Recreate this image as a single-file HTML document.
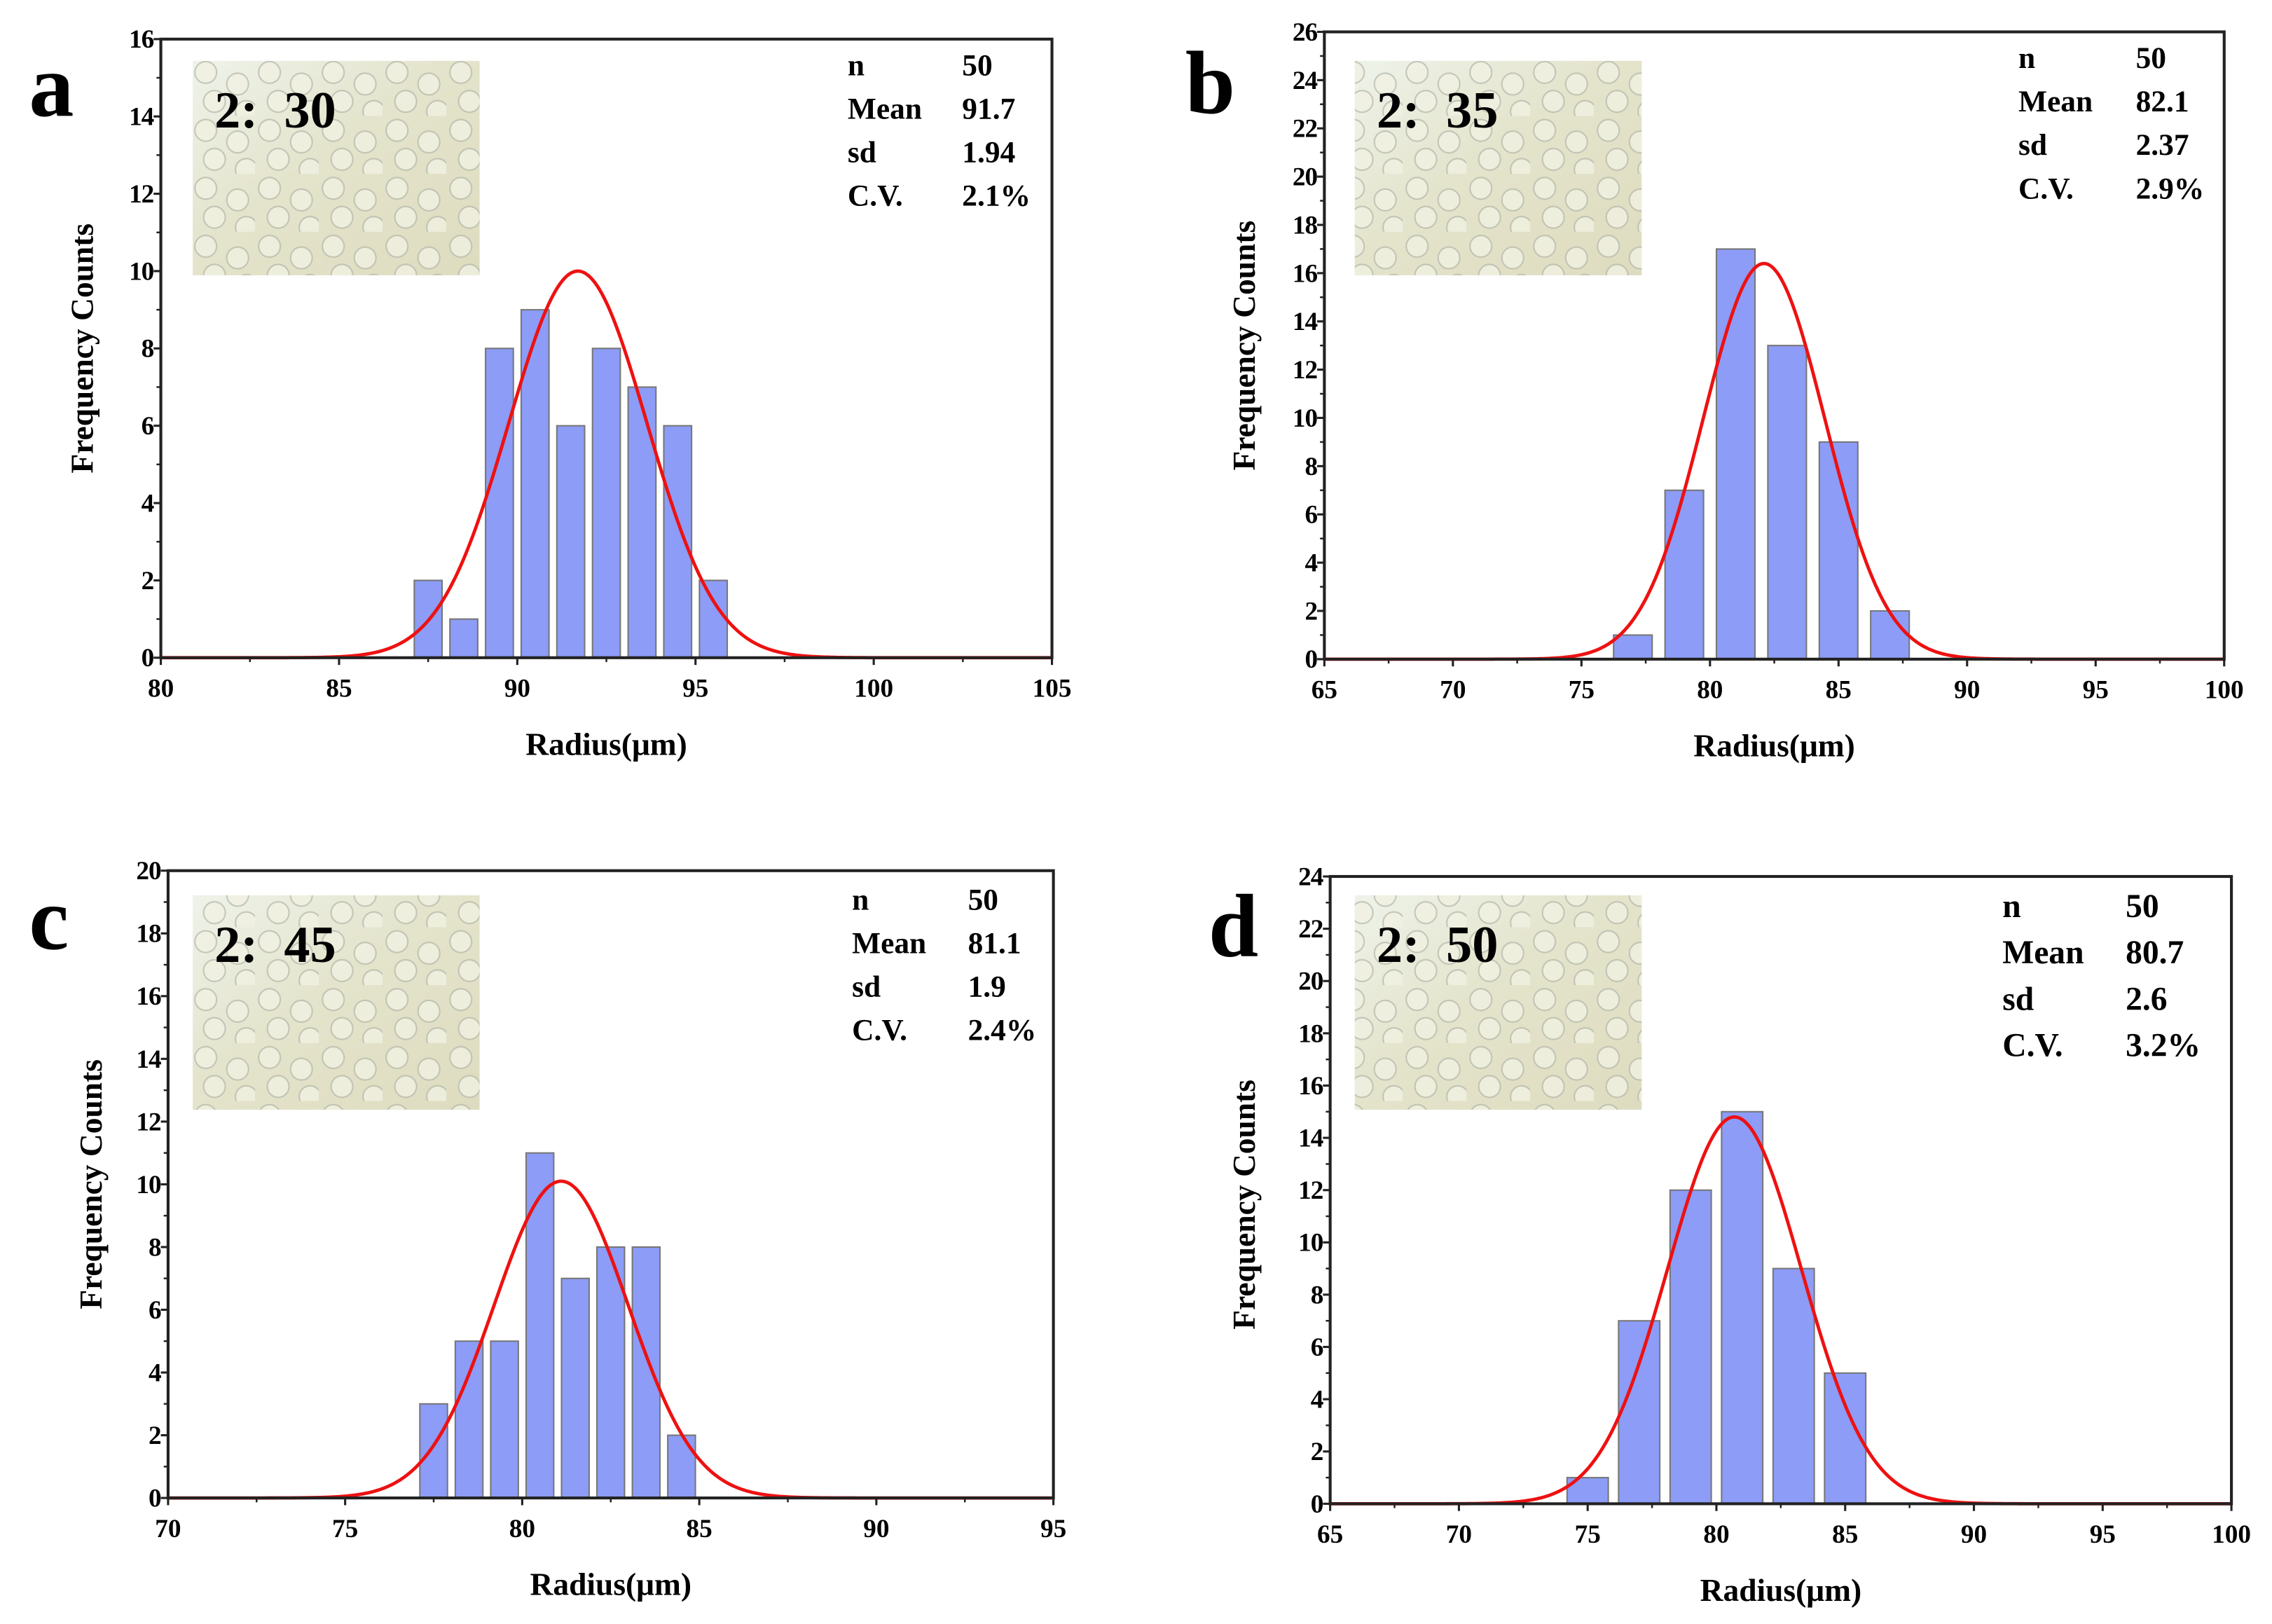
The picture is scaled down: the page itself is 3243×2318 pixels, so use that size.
<!DOCTYPE html>
<html><head><meta charset="utf-8"><style>
html,body{margin:0;padding:0;background:#fff;}
svg{display:block;}
text{font-family:"Liberation Serif",serif;font-weight:bold;fill:#000;}
.pre{white-space:pre;}
</style></head><body>
<svg id="fig" width="3243" height="2318" viewBox="0 0 1568 1121" preserveAspectRatio="none" xmlns="http://www.w3.org/2000/svg">
<defs>
<pattern id="drops" width="44" height="40" patternUnits="userSpaceOnUse">
<circle cx="10" cy="10" r="7.5" fill="#f1f1e2" stroke="#b9bcae" stroke-width="1"/>
<circle cx="32" cy="18" r="7.5" fill="#f1f1e2" stroke="#b9bcae" stroke-width="1"/>
<circle cx="16" cy="30" r="7.5" fill="#f1f1e2" stroke="#b9bcae" stroke-width="1"/>
<circle cx="38" cy="37" r="7.5" fill="#f1f1e2" stroke="#b9bcae" stroke-width="1"/>
</pattern>
<linearGradient id="bg" x1="0" y1="0" x2="1" y2="1">
<stop offset="0" stop-color="#eef3ea"/><stop offset="0.45" stop-color="#e4e4cc"/><stop offset="1" stop-color="#dedcbf"/>
</linearGradient>
</defs>
</svg>
<script>
// Panel a
const aCenters=[87.5,88.5,89.5,90.5,91.5,92.5,93.5,94.5,95.5];
const aCounts=[2,1,8,9,6,8,7,6,2];
const aFit=[91.7,1.94,10.0];
const aXTicks=[80,85,90,95,100,105];
const aYTicks=[0,2,4,6,8,10,12,14,16];
const aStats=[["n","50"],["Mean","91.7"],["sd","1.94"],["C.V.","2.1%"]];
// Panel b
const bCenters=[77,79,81,83,85,87];
const bCounts=[1,7,17,13,9,2];
const bFit=[82.1,2.37,16.4];
const bXTicks=[65,70,75,80,85,90,95,100];
const bYTicks=[0,2,4,6,8,10,12,14,16,18,20,22,24,26];
const bStats=[["n","50"],["Mean","82.1"],["sd","2.37"],["C.V.","2.9%"]];
// Panel c
const cCenters=[77.5,78.5,79.5,80.5,81.5,82.5,83.5,84.5];
const cCounts=[3,5,5,11,7,8,8,2];
const cFit=[81.1,1.9,10.1];
const cXTicks=[70,75,80,85,90,95];
const cYTicks=[0,2,4,6,8,10,12,14,16,18,20];
const cStats=[["n","50"],["Mean","81.1"],["sd","1.9"],["C.V.","2.4%"]];
// Panel d
const dCenters=[75,77,79,81,83,85];
const dCounts=[1,7,12,15,9,5];
const dFit=[80.7,2.6,14.8];
const dXTicks=[65,70,75,80,85,90,95,100];
const dYTicks=[0,2,4,6,8,10,12,14,16,18,20,22,24];
const dStats=[["n","50"],["Mean","80.7"],["sd","2.6"],["C.V.","3.2%"]];

const NS="http://www.w3.org/2000/svg";
const svg=document.getElementById('fig');
function mk(tag,attrs,parent){const e=document.createElementNS(NS,tag);for(const k in attrs)e.setAttribute(k,attrs[k]);(parent||svg).appendChild(e);return e;}

function panel(cfg){
  const g=mk('g',{});
  
  
  const xs=cfg.xTicks, ys=cfg.yTicks;
  const x0=xs[0],x1=xs[xs.length-1],y0=ys[0],y1=ys[ys.length-1];
  const X=v=>cfg.L+(v-x0)/(x1-x0)*(cfg.R-cfg.L);
  const Y=v=>cfg.B-(v-y0)/(y1-y0)*(cfg.B-cfg.T);
  const ig=mk('g',{},g);
  
  
  mk('rect',{x:cfg.inset[0],y:cfg.inset[1],width:198,height:148,fill:'url(#bg)'},ig);
  mk('rect',{x:cfg.inset[0],y:cfg.inset[1],width:198,height:148,fill:'url(#drops)',opacity:0.8},ig);
  const it=mk('text',{x:cfg.inset[0]+15,y:cfg.inset[1]+46,'font-size':36,'class':'pre'},ig);
  it.textContent=cfg.label;
  
  
  const bw=cfg.bw;
  cfg.centers.forEach((c,i)=>{
    const r=mk('rect',{x:X(c-bw/2),y:Y(cfg.counts[i]),width:X(c+bw/2)-X(c-bw/2),height:Y(0)-Y(cfg.counts[i]),fill:'#8c9cf7',stroke:'#777',"stroke-width":1},g);
    
    
  });
  const [mu,sd,amp]=cfg.fit;
  let d='';
  for(let k=0;k<=400;k++){const v=x0+(x1-x0)*k/400;const f=amp*Math.exp(-0.5*((v-mu)/sd)**2);d+=(k?'L':'M')+X(v).toFixed(2)+' '+Y(f).toFixed(2);}
  const p=mk('path',{d:d,fill:'none',stroke:'#ee1111','stroke-width':2.3},g);
  
  
  const fr=mk('rect',{x:cfg.L,y:cfg.T,width:cfg.R-cfg.L,height:cfg.B-cfg.T,fill:'none',stroke:'#222','stroke-width':2},g);
  
  
  ys.forEach((v,i)=>{
    mk('line',{x1:cfg.L-5,x2:cfg.L,y1:Y(v),y2:Y(v),stroke:'#222','stroke-width':1.5},g);
    if(i<ys.length-1){const m=(v+ys[i+1])/2;mk('line',{x1:cfg.L-3,x2:cfg.L,y1:Y(m),y2:Y(m),stroke:'#222','stroke-width':1.2},g);}
    const t=mk('text',{x:cfg.L-5,y:Y(v)+6,'font-size':18,'text-anchor':'end','letter-spacing':-0.5},g);
    t.textContent=v;
    
    
  });
  xs.forEach((v,i)=>{
    mk('line',{x1:X(v),x2:X(v),y1:cfg.B,y2:cfg.B+5,stroke:'#222','stroke-width':1.5},g);
    if(i<xs.length-1){const m=(v+xs[i+1])/2;mk('line',{x1:X(m),x2:X(m),y1:cfg.B,y2:cfg.B+3,stroke:'#222','stroke-width':1.2},g);}
    const t=mk('text',{x:X(v),y:cfg.B+27,'font-size':18,'text-anchor':'middle'},g);
    t.textContent=v;
    
    
  });
  const xt=mk('text',{x:(cfg.L+cfg.R)/2,y:cfg.B+67,'font-size':22,'text-anchor':'middle'},g);
  xt.textContent='Radius(μm)';
  
  
  const yc=(cfg.T+cfg.B)/2+cfg.yoff;
  const yt=mk('text',{x:cfg.yx,y:yc,'font-size':22,'text-anchor':'middle',transform:`rotate(-90 ${cfg.yx} ${yc})`},g);
  yt.textContent='Frequency Counts';
  
  
  cfg.stats.forEach((s,i)=>{
    const a=mk('text',{x:cfg.st[0],y:cfg.st[2]+i*cfg.st[3],'font-size':cfg.st[4]},g);
    a.textContent=s[0];
    
    
    const b=mk('text',{x:cfg.st[1],y:cfg.st[2]+i*cfg.st[3],'font-size':cfg.st[4]},g);
    b.textContent=s[1];
    
    
  });
  const pl=mk('text',{x:cfg.pl[0],y:cfg.pl[1],'font-size':62},g);
  pl.textContent=cfg.id;
  
  
}
panel({id:'a',L:111,R:726,T:27,B:454,xTicks:aXTicks,yTicks:aYTicks,centers:aCenters,counts:aCounts,fit:aFit,bw:0.78,inset:[133,42],label:'2:  30',stats:aStats,st:[585,664,52,30,21],pl:[20,80],yx:64,yoff:0});
panel({id:'b',L:914,R:1535,T:22,B:455,xTicks:bXTicks,yTicks:bYTicks,centers:bCenters,counts:bCounts,fit:bFit,bw:1.5,inset:[935,42],label:'2:  35',stats:bStats,st:[1393,1474,47,30,21],pl:[818,78],yx:866,yoff:0});
panel({id:'c',L:116,R:727,T:601,B:1034,xTicks:cXTicks,yTicks:cYTicks,centers:cCenters,counts:cCounts,fit:cFit,bw:0.78,inset:[133,618],label:'2:  45',stats:cStats,st:[588,668,628,30,21],pl:[20,655],yx:70,yoff:0});
panel({id:'d',L:918,R:1540,T:605,B:1038,xTicks:dXTicks,yTicks:dYTicks,centers:dCenters,counts:dCounts,fit:dFit,bw:1.6,inset:[935,618],label:'2:  50',stats:dStats,st:[1382,1467,633,32,23],pl:[834,660],yx:866,yoff:10});
</script>
</body></html>
